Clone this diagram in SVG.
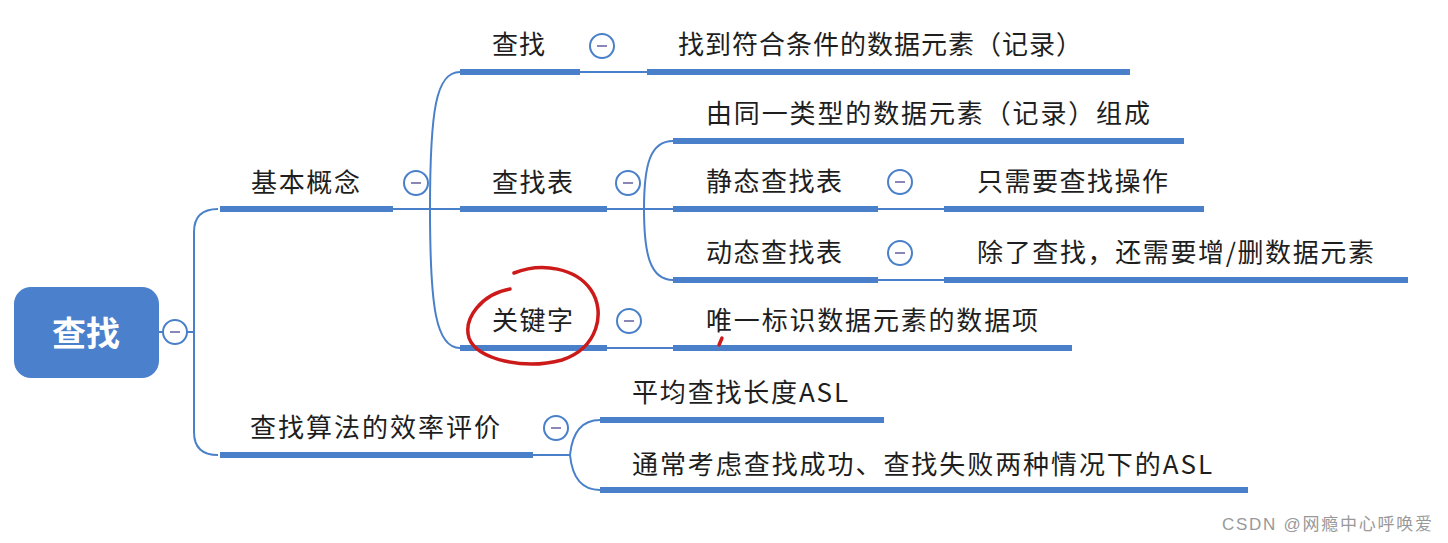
<svg xmlns="http://www.w3.org/2000/svg" width="1448" height="543" viewBox="0 0 1448 543">
<style>
.t{font-family:"Noto Sans CJK SC","Noto Sans",sans-serif;font-size:26px;fill:#1e1e1e}
.bar{stroke:#4a80c9;stroke-width:6;fill:none}
.ln{stroke:#4a80c9;stroke-width:2;fill:none}
.cc{fill:#fff;stroke:#4a80c9;stroke-width:2}
.mn{stroke:#8a86b8;stroke-width:2}
</style>
<defs>
<g id="col"><circle class="cc" r="12"/><line class="mn" x1="-5" y1="0" x2="5" y2="0"/></g>
</defs>
<rect width="1448" height="543" fill="#fff"/>
<g id="connectors">
<path class="ln" d="M159 332 H188"/>
<path class="ln" d="M188 332 H194 M194 332 V232 Q194 209 218 209 M194 332 V432 Q194 455 218 455"/>
<path class="ln" d="M393 209 H460 M430 209 C430 110 436 72 460 72 M430 209 C430 308 436 348 460 348"/>
<path class="ln" d="M580 72 H647"/>
<path class="ln" d="M607 209 H673 M644 209 C644 165 650 141 673 141 M644 209 C644 254 650 280 673 280"/>
<path class="ln" d="M878 209 H944 M878 280 H944"/>
<path class="ln" d="M607 348 H673"/>
<path class="ln" d="M533 455 H570 M570 455 C572 435 580 420 600 420 M570 455 C572 475 580 490 600 490"/>
</g>
<g id="root">
<rect x="14" y="287" width="145" height="91" rx="17" fill="#4a80cc"/>
<text x="86" y="346" text-anchor="middle" style="font-family:'Noto Sans CJK SC',sans-serif;font-size:34px;font-weight:bold;fill:#fff">查找</text>
<use href="#col" x="175" y="332"/>
</g>
<g id="n-jbgn">
<path class="bar" d="M220 209 H393"/>
<text class="t" x="251" y="192" textLength="109">基本概念</text>
<use href="#col" x="416" y="183"/>
</g>
<g id="n-xzsf">
<path class="bar" d="M220 455 H533"/>
<text class="t" x="250" y="437" textLength="250">查找算法的效率评价</text>
<use href="#col" x="556" y="428"/>
</g>
<g id="n-cz">
<path class="bar" d="M460 72 H580"/>
<text class="t" x="492" y="54" textLength="53">查找</text>
<use href="#col" x="602" y="46"/>
</g>
<g id="n-czb">
<path class="bar" d="M460 209 H607"/>
<text class="t" x="492" y="192" textLength="81">查找表</text>
<use href="#col" x="628" y="183"/>
</g>
<g id="n-gjz">
<path class="bar" d="M460 348 H607"/>
<text class="t" x="492" y="330" textLength="81">关键字</text>
<use href="#col" x="629" y="321"/>
</g>
<g id="n-cz-d">
<path class="bar" d="M647 72 H1130"/>
<text class="t" x="678" y="54" textLength="404">找到符合条件的数据元素（记录）</text>
</g>
<g id="n-czb-1">
<path class="bar" d="M673 141 H1184"/>
<text class="t" x="706" y="123" textLength="444">由同一类型的数据元素（记录）组成</text>
</g>
<g id="n-jt">
<path class="bar" d="M673 209 H878"/>
<text class="t" x="706" y="191" textLength="136">静态查找表</text>
<use href="#col" x="900" y="182"/>
</g>
<g id="n-jt-d">
<path class="bar" d="M944 209 H1204"/>
<text class="t" x="977" y="191" textLength="191">只需要查找操作</text>
</g>
<g id="n-dt">
<path class="bar" d="M673 280 H878"/>
<text class="t" x="706" y="262" textLength="136">动态查找表</text>
<use href="#col" x="900" y="253"/>
</g>
<g id="n-dt-d">
<path class="bar" d="M944 280 H1408"/>
<text class="t" x="977" y="262" textLength="397">除了查找，还需要增/删数据元素</text>
</g>
<g id="n-gjz-d">
<path class="bar" d="M673 348 H1072"/>
<text class="t" x="706" y="330" textLength="332">唯一标识数据元素的数据项</text>
</g>
<g id="n-asl">
<path class="bar" d="M600 420 H884"/>
<text class="t" x="632" y="402" textLength="216">平均查找长度ASL</text>
</g>
<g id="n-asl2">
<path class="bar" d="M600 490 H1248"/>
<text class="t" x="632" y="474" textLength="580">通常考虑查找成功、查找失败两种情况下的ASL</text>
</g>
<g id="annotation" fill="none" stroke="#cc1a1a" stroke-width="3.5" stroke-linecap="round">
<path d="M510 289 C482 294 463 318 469 338 C477 360 525 370 562 360 C598 348 606 312 591 290 C576 268 542 262 514 273"/>
<path d="M719 345 L722 338"/>
</g>
<text x="1222" y="530" textLength="210" style="font-family:'Liberation Sans','Noto Sans CJK SC',sans-serif;font-size:17px;fill:#999">CSDN @网瘾中心呼唤爱</text>
</svg>
